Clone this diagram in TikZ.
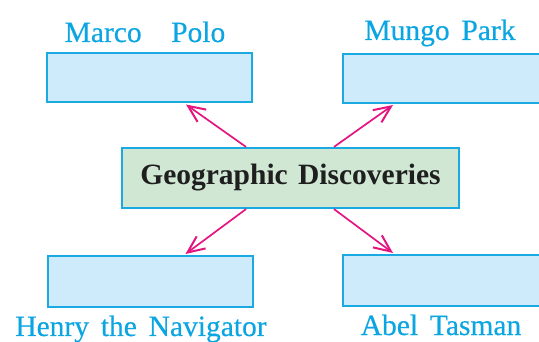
\documentclass[tikz,border=0pt]{standalone}
\usepackage{fontspec}
\setmainfont{Liberation Serif}
\usetikzlibrary{arrows.meta,calc}
\definecolor{cyanline}{HTML}{1AA9E1}
\definecolor{cyantext}{HTML}{0BA5E2}
\definecolor{boxfill}{HTML}{CDEBFB}
\definecolor{centerfill}{HTML}{D0E8D3}
\definecolor{arrowmag}{HTML}{E5157F}
\tikzset{
  namebox/.style={draw=cyanline, line width=2pt, fill=boxfill, inner sep=0pt, minimum width=205pt, minimum height=49pt},
  centerbox/.style={draw=cyanline, line width=2.2pt, fill=centerfill, inner sep=0pt, minimum width=337pt, minimum height=60pt,
    font=\fontsize{29.5}{34}\selectfont\bfseries, text=black!88},
  namelabel/.style={anchor=base, text=cyantext, font=\fontsize{29.5}{34}\selectfont, inner sep=0pt},
  link/.style={draw=arrowmag, line width=1.7pt, -{Straight Barb[length=17pt,width=15pt,line width=2pt]}}
}
\begin{document}
\begin{tikzpicture}[x=1pt,y=-1pt]
\useasboundingbox (0,0) rectangle (539,342);
\clip (0,0) rectangle (539,342);
\node[centerbox] (c) at (290.5,178) {Geographic\hspace{0.35em}Discoveries};
\node[namebox] (tl) at (149.5,78) {};
\node[namebox, minimum width=216pt] (tr) at (451,78.5) {};
\node[namebox, minimum height=51pt] (bl) at (150,281.5) {};
\node[namebox, minimum width=216pt, minimum height=51pt] (br) at (451,280.5) {};
\node[namelabel] (ltl) at (145,42) {\addfontfeature{FakeBold=0.4}Marco\hspace{1em}Polo};
\node[namelabel] (ltr) at (440,40) {\addfontfeature{FakeBold=0.4}Mungo\hspace{0.4em}Park};
\node[namelabel] (lbl) at (141,336) {\addfontfeature{FakeBold=0.4}Henry\hspace{0.4em}the\hspace{0.4em}Navigator};
\node[namelabel] (lbr) at (441,335) {\addfontfeature{FakeBold=0.4}Abel\hspace{0.4em}Tasman};
\draw[link] ($(c.north)+(-44.5,0)$) -- ($(tl.south east)+(-67,1)$);
\draw[link] ($(c.north)+(43.5,0)$) -- ($(tr.south west)+(51,1)$);
\draw[link] ($(c.south)+(-44.5,0)$) -- ($(bl.north east)+(-68,-1)$);
\draw[link] ($(c.south)+(43.5,0)$) -- ($(br.north west)+(51,-1)$);
\end{tikzpicture}
\end{document}
